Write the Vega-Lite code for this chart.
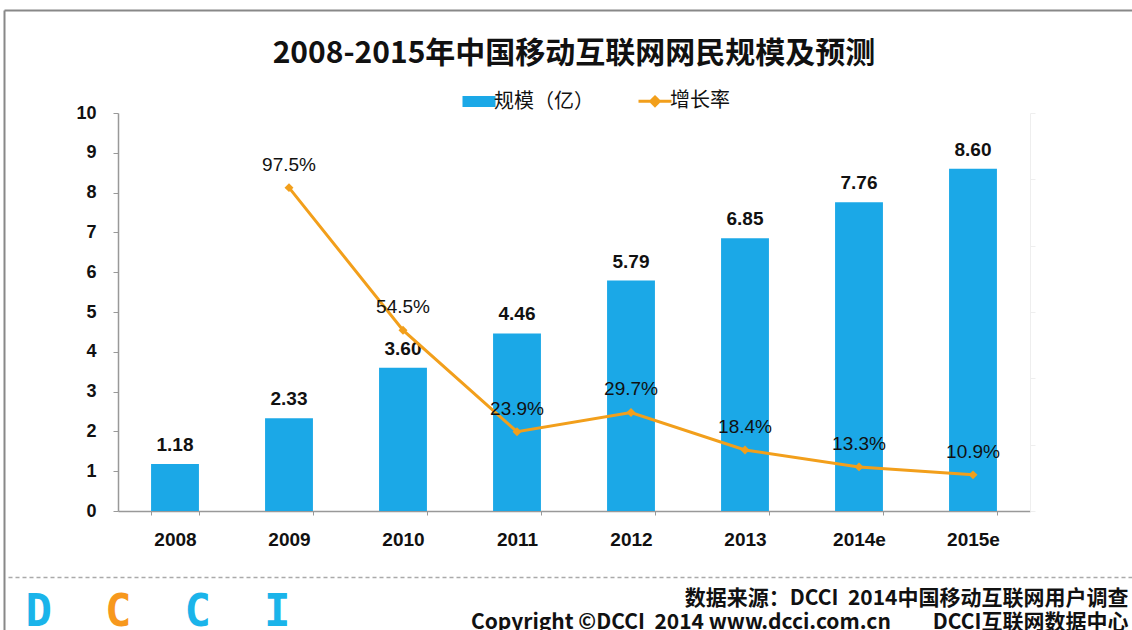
{
  "$schema": "https://vega.github.io/schema/vega-lite/v6.json",
  "width": 912,
  "height": 398,
  "autosize": {"type": "none"},
  "padding": {"left": 118, "top": 113, "right": 102, "bottom": 119},
  "background": "white",
  "config": {"view": {"stroke": null}},
  "title": {
    "text": "2008-2015年中国移动互联网网民规模及预测",
    "anchor": "middle",
    "font": "Noto Sans CJK SC",
    "fontSize": 30,
    "fontWeight": "bold",
    "color": "#111111",
    "offset": -59
  },
  "data": {
    "values": [
      {"year": "2008", "size": 1.18, "rate": null},
      {"year": "2009", "size": 2.33, "rate": 0.975},
      {"year": "2010", "size": 3.60, "rate": 0.545},
      {"year": "2011", "size": 4.46, "rate": 0.239},
      {"year": "2012", "size": 5.79, "rate": 0.297},
      {"year": "2013", "size": 6.85, "rate": 0.184},
      {"year": "2014e", "size": 7.76, "rate": 0.133},
      {"year": "2015e", "size": 8.60, "rate": 0.109}
    ]
  },
  "layer": [
    {
      "encoding": {
        "x": {
          "field": "year",
          "type": "nominal",
          "sort": null,
          "scale": {"type": "band", "paddingInner": 0.58, "paddingOuter": 0.29},
          "axis": {
            "labelAngle": 0,
            "labelFont": "Liberation Sans",
            "labelFontSize": 19,
            "labelFontWeight": "bold",
            "labelColor": "#111111",
            "labelPadding": 15,
            "domainColor": "#999999",
            "domainWidth": 1.5,
            "tickColor": "#999999",
            "tickSize": 4,
            "tickBand": "extent",
            "title": ["数据来源：DCCI\u00a0 2014中国移动互联网用户调查", "Copyright ©DCCI\u00a0 2014 www.dcci.com.cn\u3000\u3000DCCI互联网数据中心"],
            "titleFont": "Noto Sans CJK SC",
            "titleFontSize": 21,
            "titleFontWeight": "bold",
            "titleColor": "#111111",
            "titleAlign": "right",
            "titleAnchor": "start",
            "titleBaseline": "alphabetic",
            "titleX": 1010,
            "titleY": 93,
            "titleLineHeight": 24
          }
        },
        "y": {
          "field": "size",
          "type": "quantitative",
          "scale": {"domain": [0, 10], "nice": false},
          "axis": {
            "values": [0, 1, 2, 3, 4, 5, 6, 7, 8, 9, 10],
            "grid": false,
            "labelFont": "Liberation Sans",
            "labelFontSize": 18,
            "labelFontWeight": "bold",
            "labelColor": "#111111",
            "labelPadding": 17,
            "domainColor": "#999999",
            "domainWidth": 1.5,
            "tickColor": "#999999",
            "tickSize": 5,
            "title": "D\u00a0\u00a0\u00a0\u00a0\u00a0C\u00a0\u00a0I",
            "titleAngle": 0,
            "titleFont": "DejaVu Sans Mono",
            "titleFontSize": 44,
            "titleFontWeight": "bold",
            "titleColor": "#1AB4EA",
            "titleAlign": "left",
            "titleAnchor": "start",
            "titleBaseline": "alphabetic",
            "titleX": -93,
            "titleY": 512
          }
        }
      },
      "layer": [
        {
          "mark": {"type": "bar"},
          "encoding": {
            "color": {
              "datum": "规模（亿）",
              "scale": {"domain": ["规模（亿）", "增长率"], "range": ["#1BA8E7", "#F29F1B"]},
              "legend": {
                "orient": "none",
                "legendX": 351,
                "legendY": -22,
                "direction": "horizontal",
                "title": null,
                "labelFont": "Noto Sans CJK SC",
                "labelFontSize": 20,
                "labelColor": "#111111",
                "labelOffset": 5,
                "columnPadding": 38,
                "symbolSize": 1089,
                "encode": {
                  "symbols": {
                    "update": {
                      "shape": {"signal": "datum.value === '增长率' ? 'M-1,0H1M0,-0.26L0.26,0L0,0.26L-0.26,0Z' : 'M-1,-0.33H1V0.33H-1Z'"},
                      "fill": {"signal": "datum.value === '增长率' ? '#F29F1B' : '#1BA8E7'"},
                      "stroke": {"signal": "datum.value === '增长率' ? '#F29F1B' : '#1BA8E7'"},
                      "strokeWidth": {"signal": "datum.value === '增长率' ? 3 : 0"},
                      "opacity": {"value": 1},
                      "fillOpacity": {"value": 1}
                    }
                  }
                }
              }
            }
          }
        },
        {
          "mark": {"type": "text", "baseline": "alphabetic", "dy": -13, "font": "Liberation Sans", "fontSize": 19, "fontWeight": "bold", "color": "#111111"},
          "encoding": {"text": {"field": "size", "type": "quantitative", "format": ".2f"}}
        }
      ]
    },
    {
      "encoding": {
        "x": {
          "field": "year",
          "type": "nominal",
          "sort": null,
          "scale": {"type": "band", "paddingInner": 0.58, "paddingOuter": 0.29},
          "axis": null
        },
        "y": {
          "field": "rate",
          "type": "quantitative",
          "scale": {"domain": [0, 1.2], "nice": false},
          "axis": {
            "orient": "right",
            "values": [0, 0.2, 0.4, 0.6, 0.8, 1.0, 1.2],
            "grid": false,
            "labels": false,
            "domainColor": "#eeeeee",
            "tickColor": "#eeeeee",
            "tickSize": 5,
            "title": "C",
            "titleAngle": 0,
            "titleFont": "DejaVu Sans Mono",
            "titleFontSize": 44,
            "titleFontWeight": "bold",
            "titleColor": "#F7981D",
            "titleAlign": "left",
            "titleAnchor": "start",
            "titleBaseline": "alphabetic",
            "titleX": -925.5,
            "titleY": 512
          }
        }
      },
      "layer": [
        {
          "mark": {"type": "line", "strokeWidth": 3, "point": {"shape": "diamond", "size": 80, "filled": true}},
          "encoding": {"color": {"datum": "增长率"}}
        },
        {
          "mark": {"type": "text", "baseline": "alphabetic", "dy": -17, "font": "Liberation Sans", "fontSize": 19, "color": "#111111"},
          "encoding": {"text": {"field": "rate", "type": "quantitative", "format": ".1%"}}
        }
      ]
    },
    {
      "mark": {"type": "point", "opacity": 0},
      "encoding": {
        "x": {
          "field": "year",
          "type": "nominal",
          "sort": null,
          "scale": {"type": "point", "range": [-110, 1014]},
          "axis": {"orient": "bottom", "offset": 66, "labels": false, "ticks": false, "grid": false, "title": null, "domainColor": "#aaaaaa", "domainWidth": 1.5, "domainDash": [4, 3]}
        },
        "y": {
          "field": "size",
          "type": "quantitative",
          "scale": {"range": [517, -103]},
          "axis": {"orient": "left", "offset": 114, "labels": false, "ticks": false, "grid": false, "title": null, "domainColor": "#888888", "domainWidth": 2}
        }
      }
    },
    {
      "mark": {"type": "point", "opacity": 0},
      "encoding": {
        "x": {
          "field": "year",
          "type": "nominal",
          "sort": null,
          "scale": {"type": "point", "range": [-114, 1014]},
          "axis": {"orient": "top", "offset": 103, "labels": false, "ticks": false, "grid": false, "title": null, "domainColor": "#888888", "domainWidth": 2}
        }
      }
    }
  ],
  "resolve": {
    "scale": {"x": "independent", "y": "independent"},
    "axis": {"x": "independent", "y": "independent"}
  }
}
